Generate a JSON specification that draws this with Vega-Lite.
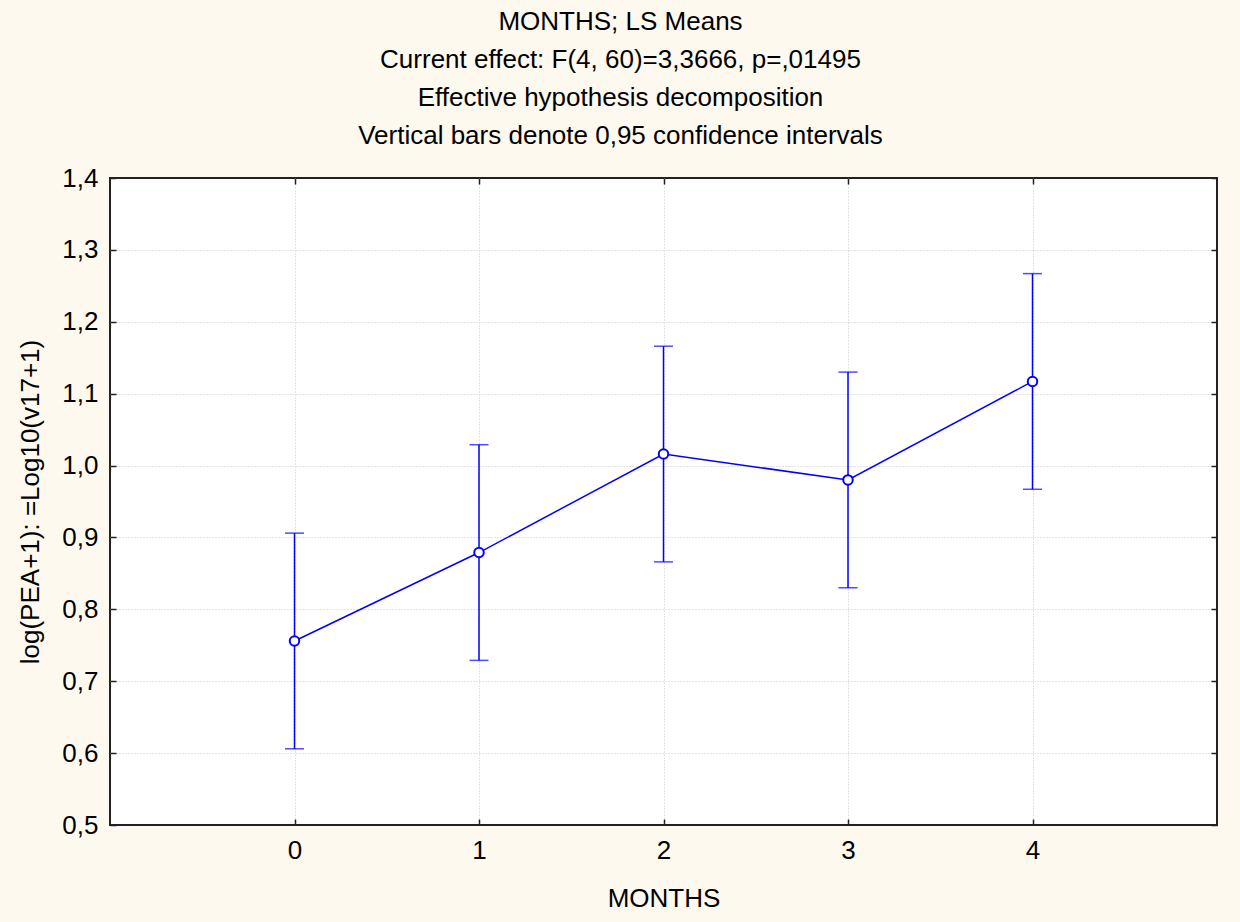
{
  "$schema": "https://vega.github.io/schema/vega-lite/v6.json",
  "width": 1107,
  "height": 647,
  "autosize": {"type": "none"},
  "padding": {"left": 110, "top": 178, "right": 23, "bottom": 97},
  "background": "#FEF9EE",
  "config": {
    "font": "Liberation Sans",
    "view": {"fill": "white", "stroke": "#222222", "strokeWidth": 2}
  },
  "title": {
    "text": ["MONTHS; LS Means", "Current effect: F(4, 60)=3,3666, p=,01495", "Effective hypothesis decomposition", "Vertical bars denote 0,95 confidence intervals"],
    "fontSize": 26,
    "fontWeight": "normal",
    "color": "black",
    "lineHeight": 38,
    "anchor": "middle",
    "dx": -43,
    "offset": 16
  },
  "data": {
    "values": [
      {"month": 0, "mean": 0.756, "lo": 0.606, "hi": 0.906},
      {"month": 1, "mean": 0.879, "lo": 0.729, "hi": 1.029},
      {"month": 2, "mean": 1.016, "lo": 0.866, "hi": 1.166},
      {"month": 3, "mean": 0.980, "lo": 0.830, "hi": 1.130},
      {"month": 4, "mean": 1.117, "lo": 0.967, "hi": 1.267}
    ]
  },
  "resolve": {"axis": {"x": "independent", "y": "independent"}},
  "layer": [
    {
      "mark": {"type": "rule", "color": "#0000FF", "strokeWidth": 1.5},
      "encoding": {
        "x": {
          "field": "month", "type": "quantitative",
          "scale": {"domain": [-1, 5], "nice": false, "zero": false},
          "axis": {
            "values": [0, 1, 2, 3, 4], "title": "MONTHS", "format": "d",
            "domain": false, "tickSize": -6, "tickColor": "#222222", "tickWidth": 1.5,
            "labelFontSize": 26, "labelColor": "black", "labelPadding": 18,
            "titleFontSize": 26, "titleFontWeight": "normal", "titleColor": "black", "titlePadding": 22,
            "grid": true, "gridColor": "#C8C8C8", "gridDash": [1, 2], "gridWidth": 1
          }
        },
        "y": {
          "field": "lo", "type": "quantitative",
          "scale": {"domain": [0.5, 1.4], "nice": false, "zero": false},
          "axis": {
            "values": [0.5, 0.6, 0.7, 0.8, 0.9, 1.0, 1.1, 1.2, 1.3, 1.4],
            "labelExpr": "replace(format(datum.value, '.1f'), '.', ',')",
            "title": "log(PEA+1): =Log10(v17+1)",
            "domain": false, "tickSize": -6, "tickColor": "#222222", "tickWidth": 1.5,
            "labelFontSize": 26, "labelColor": "black", "labelPadding": 18,
            "titleFontSize": 26, "titleFontWeight": "normal", "titleColor": "black", "titlePadding": 18,
            "grid": true, "gridColor": "#C8C8C8", "gridDash": [1, 2], "gridWidth": 1,
            "gridOpacity": {"condition": {"test": "datum.value < 0.55 || datum.value > 1.35", "value": 0}, "value": 1}
          }
        },
        "y2": {"field": "hi"}
      }
    },
    {
      "mark": {"type": "line", "color": "#0000FF", "strokeWidth": 1.5},
      "encoding": {
        "x": {
          "field": "month", "type": "quantitative",
          "axis": {"orient": "top", "values": [0, 1, 2, 3, 4], "labels": false, "title": null, "domain": false, "grid": false, "tickSize": -6, "tickColor": "#222222", "tickWidth": 1.5}
        },
        "y": {
          "field": "mean", "type": "quantitative",
          "axis": {"orient": "right", "values": [0.5, 0.6, 0.7, 0.8, 0.9, 1.0, 1.1, 1.2, 1.3, 1.4], "labels": false, "title": null, "domain": false, "grid": false, "tickSize": -6, "tickColor": "#222222", "tickWidth": 1.5}
        }
      }
    },
    {
      "mark": {"type": "tick", "orient": "horizontal", "color": "#0000FF", "size": 19, "thickness": 1.5},
      "encoding": {
        "x": {"field": "month", "type": "quantitative", "axis": null},
        "y": {"field": "lo", "type": "quantitative", "axis": null}
      }
    },
    {
      "mark": {"type": "tick", "orient": "horizontal", "color": "#0000FF", "size": 19, "thickness": 1.5},
      "encoding": {
        "x": {"field": "month", "type": "quantitative", "axis": null},
        "y": {"field": "hi", "type": "quantitative", "axis": null}
      }
    },
    {
      "mark": {"type": "point", "shape": "circle", "filled": true, "fill": "white", "stroke": "#0000FF", "strokeWidth": 2, "size": 90, "opacity": 1},
      "encoding": {
        "x": {"field": "month", "type": "quantitative", "axis": null},
        "y": {"field": "mean", "type": "quantitative", "axis": null}
      }
    }
  ]
}
